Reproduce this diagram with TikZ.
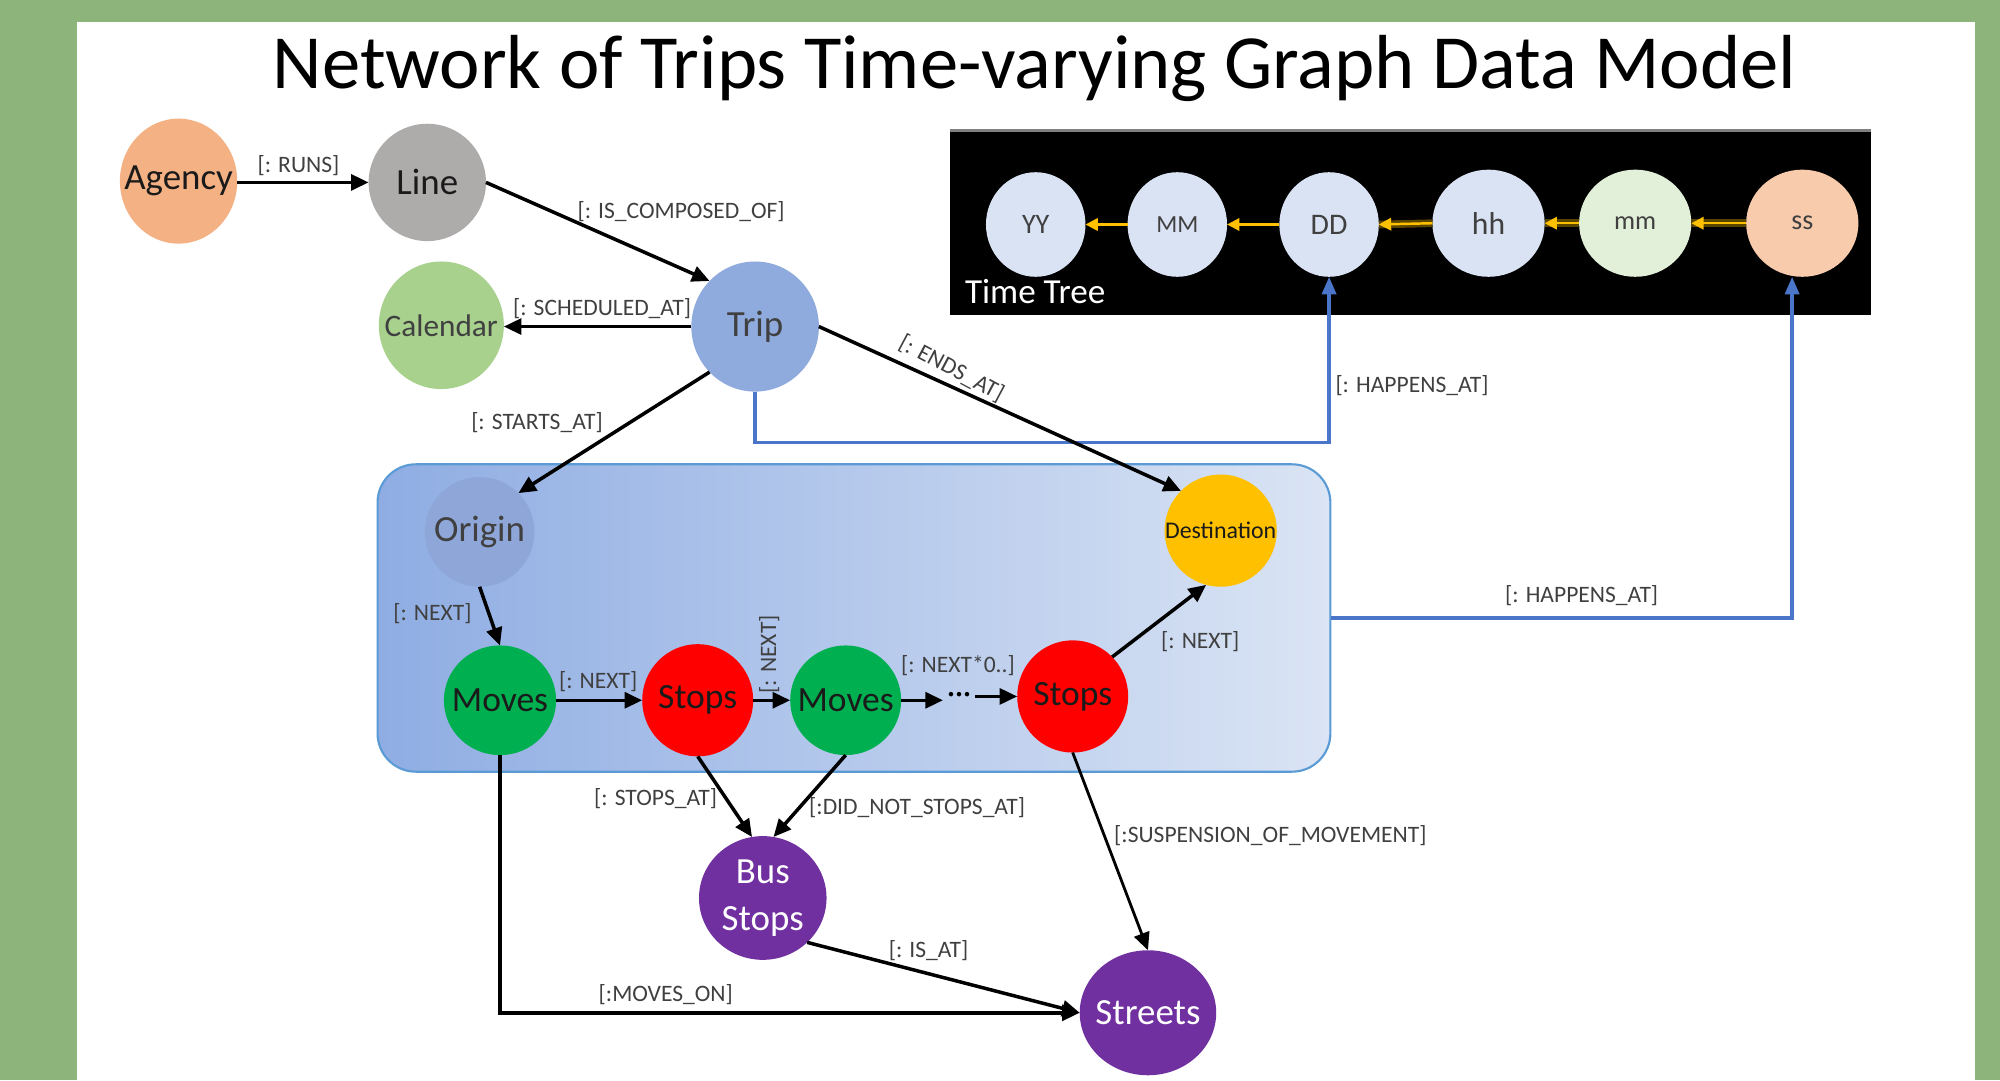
\documentclass[tikz,border=0pt]{standalone}
\usepackage{fontspec}
\setmainfont{Carlito}
\usetikzlibrary{shapes.geometric,arrows.meta,calc}
\definecolor{bggreen}{HTML}{8DB47B}
\definecolor{cagency}{HTML}{F4B183}
\definecolor{cline}{HTML}{AEABAB}
\definecolor{ccal}{HTML}{A9D18E}
\definecolor{ctrip}{HTML}{8FAADC}
\definecolor{corigin}{HTML}{8EA6D8}
\definecolor{cdest}{HTML}{FFC000}
\definecolor{cmoves}{HTML}{00B050}
\definecolor{cstops}{HTML}{FF0000}
\definecolor{cpurple}{HTML}{7030A0}
\definecolor{ctl}{HTML}{DAE3F3}
\definecolor{ctg}{HTML}{E2F0D9}
\definecolor{cto}{HTML}{F8CBAD}
\definecolor{regl}{HTML}{8FADE3}
\definecolor{regr}{HTML}{DAE4F4}
\definecolor{regb}{HTML}{5B9BD5}
\definecolor{hblue}{HTML}{4A75C8}
\definecolor{gold}{HTML}{FFC000}
\definecolor{darkgold}{HTML}{5A4500}
\definecolor{labgray}{HTML}{404040}
\definecolor{ntxt}{HTML}{1A1A1A}
\def\pu{0.3629pt}
\begin{document}
\begin{tikzpicture}[x=0.12755mm,y=-0.12755mm,
  ell/.style n args={3}{ellipse, draw=none, fill=#3, minimum width=#1*\pu, minimum height=#2*\pu, inner sep=0pt, outer sep=0pt},
  ntext/.style={font=\fontsize{10.5}{12}\selectfont, text=ntxt, inner sep=0pt},
  ntextb/.style={font=\fontsize{10.1}{12}\selectfont, text=ntxt, inner sep=0pt},
  wtext/.style={font=\fontsize{10.5}{13.5}\selectfont, text=white, inner sep=0pt, align=center},
  ttext/.style={font=\fontsize{8}{9}\selectfont, text=labgray, inner sep=0pt},
  elab/.style={font=\fontsize{6.7}{8}\selectfont, text=labgray, inner sep=1pt},
  arr/.style={draw=black, line width=1pt, -{Triangle[length=5pt,width=4.5pt]}},
  bline/.style={draw=hblue, line width=1pt, -{Triangle[length=5pt,width=4pt]}},
  garr/.style={draw=gold, line width=0.7pt, -{Triangle[length=3.5pt,width=3.5pt]}},
  gshadow/.style={draw=darkgold, line width=2.2pt}
]
\useasboundingbox (0,0) rectangle (1568,847);
\fill[bggreen] (0,0) rectangle (1568,847);
\fill[white] (60,17) rectangle (1548,847);

\node[font=\fontsize{21.8}{26}\selectfont, anchor=base] (title) at (811,69) {Network of Trips Time-varying Graph Data Model};

% Time tree
\fill[black] (745,102) rectangle (1467,247);
\draw[gray, line width=0.8pt] (745,102) -- (1467,102);
\node[anchor=base west, text=white, font=\fontsize{10}{12}\selectfont, inner sep=0pt] (ttree) at (756,238) {Time Tree};
\node[ell={78}{82}{ctl}, label={[ttext]center:YY}] (yy) at (812,176) {};
\node[ell={78}{82}{ctl}, label={[ttext, font=\fontsize{7}{8}\selectfont]center:MM}] (mo) at (923,176) {};
\node[ell={78}{82}{ctl}, label={[ttext, font=\fontsize{8.5}{10}\selectfont]center:DD}] (dd) at (1042,176) {};
\node[ell={88}{84}{ctl}, label={[ttext, font=\fontsize{9}{10}\selectfont]center:hh}] (hh) at (1167,175) {};
\node[ell={88}{84}{ctg}, label={[ttext, font=\fontsize{7.5}{9}\selectfont]center:mm}] (mi) at (1282,175) {};
\node[ell={88}{84}{cto}, label={[ttext]center:ss}] (ss) at (1413,175) {};
\draw[gshadow] (hh.west) -- (dd.east);
\draw[gshadow] (mi.west) -- (hh.east);
\draw[gshadow] (ss.west) -- (mi.east);
\draw[garr] (mo.west) -- (yy.east);
\draw[garr] (dd.west) -- (mo.east);
\draw[garr] (hh.west) -- (dd.east);
\draw[garr] (mi.west) -- (hh.east);
\draw[garr] (ss.west) -- (mi.east);

% region
\node[rectangle, rounded corners=10.9pt, left color=regl, right color=regr, draw=regb, line width=0.6pt,
      minimum width=747*\pu, minimum height=241*\pu, inner sep=0pt] (region) at (669.5,484.5) {};

% main nodes
\node[ell={92}{98}{cagency}, label={[ntext]center:Agency}] (agency) at (140,142) {};
\node[ell={92}{92}{cline}, label={[ntext]center:Line}] (line) at (335,143) {};
\node[ell={98}{100}{ccal}, label={[ntext, text=labgray, font=\fontsize{8.9}{11}\selectfont]center:Calendar}] (calendar) at (346,255) {};
\node[ell={100}{102}{ctrip}, label={[ntext, text=labgray]center:Trip}] (trip) at (592,256) {};
\node[ell={86}{86}{corigin}, label={[ntext, text=labgray]center:Origin}] (origin) at (376,417) {};
\node[ell={88}{88}{cdest}, label={[ntext, font=\fontsize{6.8}{8}\selectfont]center:Destination}] (dest) at (957,416) {};
\node[ell={88}{86}{cmoves}, label={[ntextb]center:Moves}] (moves1) at (392,549) {};
\node[ell={87}{88}{cstops}, label={[ntextb]center:Stops}] (stops1) at (547,549) {};
\node[ell={87}{86}{cmoves}, label={[ntextb]center:Moves}] (moves2) at (663,549) {};
\node[ell={87}{88}{cstops}, label={[ntextb]center:Stops}] (stops2) at (841,546) {};
\node[ell={100}{97}{cpurple}, label={[wtext]center:{Bus\\Stops}}] (bus) at (598,704) {};
\node[ell={107}{98}{cpurple}, label={[wtext]center:Streets}] (streets) at (900,794) {};
\node[font=\fontsize{9}{10}\selectfont, inner sep=1pt] (dots) at (752,547) {\textperiodcentered\textperiodcentered\textperiodcentered};

% blue connectors
\draw[bline] (trip.south) -- ++(0,40) -| (dd.south);
\draw[bline] (region.east) -| ($(ss.south)+(-8,0)$);

% black connectors
\draw[arr] (agency.east |- line.west) -- (line.west);
\draw[arr] (line.east) -- (trip.135);
\draw[arr] (trip.west) -- (trip.west -| calendar.east);
\draw[arr] (trip.225) -- (origin.45);
\draw[arr] (trip.east) -- (dest.135);
\draw[arr] (origin.south) -- (moves1.north);
\draw[arr] (moves1.east) -- (stops1.west);
\draw[arr] (stops1.east) -- (moves2.west);
\draw[arr] (moves2.east) -- (moves2.east -| dots.west);
\draw[arr] (dots.east |- stops2.west) -- (stops2.west);
\draw[arr] (stops2.45) -- (dest.255);
\draw[arr] (stops1.south) -- (bus.100);
\draw[arr] (moves2.south) -- (bus.80);
\draw[arr, line width=0.8pt] (stops2.south) -- (streets.north);
\draw[arr] (bus.-45) -- (streets.west);
\draw[arr] (moves1.south) |- (streets.west);

% edge labels
\node[elab] (l1) at (234,130) {[: RUNS]};
\node[elab] (l2) at (534,166) {[: IS\_COMPOSED\_OF]};
\node[elab] (l3) at (472,242) {[: SCHEDULED\_AT]};
\node[elab] (l4) at (421,331) {[: STARTS\_AT]};
\node[elab, rotate=-28] (l5) at (746,289) {[: ENDS\_AT]};
\node[elab] (l6) at (1107,302) {[: HAPPENS\_AT]};
\node[elab] (l7) at (1240,467) {[: HAPPENS\_AT]};
\node[elab] (l8) at (339,481) {[: NEXT]};
\node[elab] (l9) at (469,534) {[: NEXT]};
\node[elab, rotate=90] (l10) at (603,513) {[: NEXT]};
\node[elab] (l11) at (751,522) {[: NEXT*0..]};
\node[elab] (l12) at (941,503) {[: NEXT]};
\node[elab] (l13) at (514,626) {[: STOPS\_AT]};
\node[elab] (l14) at (719,633) {[:DID\_NOT\_STOPS\_AT]};
\node[elab] (l15) at (996,655) {[:SUSPENSION\_OF\_MOVEMENT]};
\node[elab] (l16) at (728,745) {[: IS\_AT]};
\node[elab] (l17) at (522,780) {[:MOVES\_ON]};
\end{tikzpicture}
\end{document}
